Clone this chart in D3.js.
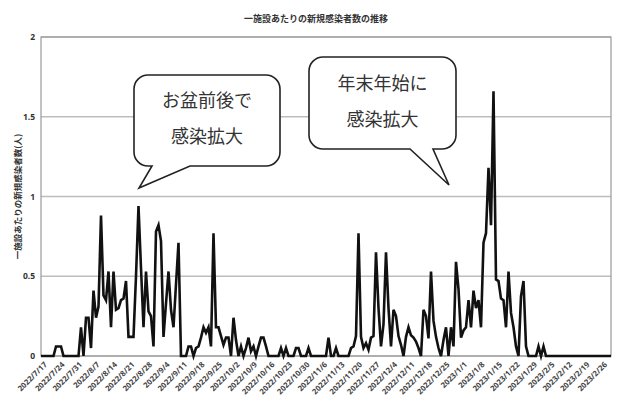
<!doctype html>
<html>
<head>
<meta charset="utf-8">
<title>一施設あたりの新規感染者数の推移</title>
<script src="https://cdnjs.cloudflare.com/ajax/libs/d3/7.8.5/d3.min.js"></script>
<style>
  body { margin: 0; background: #fff; }
  text { font-family: "Noto Sans CJK JP", "Noto Sans", sans-serif; }
</style>
</head>
<body>
<div id="chart"></div>
<script>
// daily values, 2022/7/17 .. 2023/3/2
const startDate = "2022-07-17";
const values = [
  0, 0, 0, 0, 0, 0, 0.06, 0.06, 0.06, 0,
  0, 0, 0, 0, 0, 0, 0.18, 0, 0.24, 0.24,
  0.05, 0.41, 0.24, 0.31, 0.88, 0.38, 0.35, 0.53, 0.18, 0.53,
  0.29, 0.30, 0.35, 0.36, 0.47, 0.12, 0.12, 0.12, 0.5, 0.94,
  0.55, 0.18, 0.53, 0.28, 0.25, 0.06, 0.78, 0.82, 0.72, 0.12,
  0.33, 0.53, 0.29, 0.18, 0.45, 0.71, 0, 0, 0, 0.06,
  0.06, 0, 0.05, 0.06, 0.115, 0.18, 0.145, 0.18, 0.06, 0.77,
  0.18, 0.18, 0.125, 0.07, 0.115, 0.115, 0, 0.24, 0.1, 0,
  0.06, 0, 0.05, 0.115, 0.03, 0.06, 0, 0.06, 0.115, 0.115,
  0.06, 0, 0, 0, 0, 0, 0.05, 0, 0.05, 0,
  0, 0, 0.05, 0.05, 0, 0, 0, 0.05, 0, 0,
  0, 0, 0, 0, 0, 0.115, 0, 0, 0.05, 0,
  0, 0, 0, 0, 0.05, 0.06, 0.125, 0.77, 0.12, 0.05,
  0.08, 0.04, 0.115, 0.125, 0.65, 0.3, 0.06, 0.2, 0.65, 0.3,
  0.06, 0.29, 0.25, 0.125, 0.07, 0, 0.12, 0.18, 0.13, 0.115,
  0.09, 0.05, 0, 0.29, 0.25, 0.11, 0.53, 0.22, 0.12, 0.05,
  0, 0.1, 0.18, 0, 0.18, 0.06, 0.59, 0.42, 0.115, 0.16,
  0.18, 0.35, 0.18, 0.41, 0.3, 0.35, 0.18, 0.71, 0.77, 1.18,
  0.82, 1.66, 0.48, 0.47, 0.36, 0.35, 0.18, 0.53, 0.27, 0.18,
  0.06, 0, 0.375, 0.47, 0.06, 0, 0, 0, 0, 0.06,
  0, 0.06, 0, 0, 0, 0, 0, 0, 0, 0,
  0, 0, 0, 0, 0, 0, 0, 0, 0, 0,
  0, 0, 0, 0, 0, 0, 0, 0, 0
];
const yTicks = [0, 0.5, 1, 1.5, 2];
const tickEvery = 7; // weekly date labels
const titleText = "一施設あたりの新規感染者数の推移";
const yLabel = "一施設あたりの新規感染者数(人)";
const bubbleTexts = [["お盆前後で", "感染拡大"], ["年末年始に", "感染拡大"]];

const W = 618, H = 399;
const m = { top: 37, right: 7, bottom: 43, left: 41 };

const t0 = d3.timeParse("%Y-%m-%d")(startDate);
const data = values.map((v, i) => ({ date: d3.timeDay.offset(t0, i), v: v }));

const svg = d3.select("#chart").append("svg")
  .attr("width", W).attr("height", H);

const x = d3.scaleTime()
  .domain(d3.extent(data, d => d.date))
  .range([m.left, W - m.right]);
const y = d3.scaleLinear()
  .domain([0, 2])
  .range([H - m.bottom, m.top]);

// title
svg.append("text")
  .attr("x", 316).attr("y", 22)
  .attr("text-anchor", "middle")
  .style("font-size", "9px").style("font-weight", "bold").style("fill", "#333")
  .text(titleText);

// y label
svg.append("text")
  .attr("transform", `translate(21,${(m.top + H - m.bottom) / 2}) rotate(-90)`)
  .attr("text-anchor", "middle")
  .style("font-size", "8.5px").style("font-weight", "bold").style("fill", "#333")
  .text(yLabel);

// grid
svg.append("g").selectAll("line")
  .data(yTicks)
  .join("line")
  .attr("x1", m.left).attr("x2", W - m.right)
  .attr("y1", d => y(d)).attr("y2", d => y(d))
  .attr("stroke", "#bdbdbd").attr("stroke-width", 1.5);

// frame
svg.append("rect")
  .attr("x", m.left).attr("y", m.top)
  .attr("width", W - m.right - m.left).attr("height", H - m.bottom - m.top)
  .attr("fill", "none").attr("stroke", "#9a9a9a").attr("stroke-width", 1.2);

// y axis
const yAxis = svg.append("g")
  .attr("transform", `translate(${m.left},0)`)
  .call(d3.axisLeft(y).tickValues(yTicks).tickSize(0).tickPadding(6).tickFormat(d3.format("")));
yAxis.select(".domain").remove();
yAxis.selectAll("text")
  .style("font-size", "8.5px").style("font-weight", "bold").style("fill", "#333")
  .style("font-family", "'Noto Sans', sans-serif");

// x axis
const xTickVals = data.filter((d, i) => i % tickEvery === 0 && i < data.length - 4).map(d => d.date);
const xAxis = svg.append("g")
  .attr("transform", `translate(0,${H - m.bottom})`)
  .call(d3.axisBottom(x).tickValues(xTickVals).tickSize(0).tickFormat(d3.timeFormat("%Y/%-m/%-d")));
xAxis.select(".domain").remove();
xAxis.selectAll("text")
  .attr("text-anchor", "end")
  .attr("dx", 0).attr("dy", 0)
  .attr("transform", "translate(4,7) rotate(-45)")
  .style("font-size", "7.8px").style("font-weight", "bold").style("fill", "#444")
  .style("font-family", "'Noto Sans', sans-serif");

// line
svg.append("path")
  .datum(data)
  .attr("fill", "none")
  .attr("stroke", "#111")
  .attr("stroke-width", 2.6)
  .attr("stroke-linejoin", "miter")
  .attr("d", d3.line().x(d => x(d.date)).y(d => y(d.v)));

// speech bubbles
function bubble(bx, by, bw, bh, r, tail, lines) {
  const [t1, tip, t2] = tail;
  const p = d3.path();
  p.moveTo(bx + r, by);
  p.lineTo(bx + bw - r, by);
  p.arcTo(bx + bw, by, bx + bw, by + r, r);
  p.lineTo(bx + bw, by + bh - r);
  p.arcTo(bx + bw, by + bh, bx + bw - r, by + bh, r);
  p.lineTo(t2, by + bh);
  p.lineTo(tip[0], tip[1]);
  p.lineTo(t1, by + bh);
  p.lineTo(bx + r, by + bh);
  p.arcTo(bx, by + bh, bx, by + bh - r, r);
  p.lineTo(bx, by + r);
  p.arcTo(bx, by, bx + r, by, r);
  p.closePath();
  svg.append("path").attr("d", p.toString())
    .attr("fill", "#fff").attr("stroke", "#222").attr("stroke-width", 1.6);
  svg.append("g").selectAll("text")
    .data(lines)
    .join("text")
    .attr("x", bx + bw / 2)
    .attr("y", (d, i) => by + bh / 2 - 18 + i * 36)
    .attr("text-anchor", "middle").attr("dominant-baseline", "middle")
    .style("font-size", "18px").style("fill", "#333")
    .text(d => d);
}
bubble(134, 75, 146, 91, 14, [152, [139, 188], 190], bubbleTexts[0]);
bubble(309, 57, 147, 92, 14, [410, [449, 185], 433], bubbleTexts[1]);
</script>
</body>
</html>
